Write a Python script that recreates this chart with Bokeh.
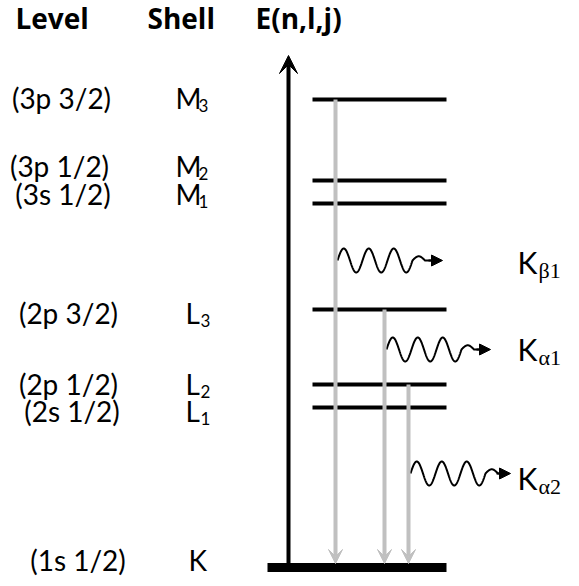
import numpy as np
from bokeh.plotting import figure
from bokeh.models import Range1d, Arrow, VeeHead, NormalHead, ColumnDataSource
from bokeh.core.properties import value
from bokeh.embed import file_html
from bokeh.resources import INLINE

# ---------------- data ----------------
headers = ["Level", "Shell", "E(n,l,j)"]
level_names = ["(3p 3/2)", "(3p 1/2)", "(3s 1/2)", "(2p 3/2)", "(2p 1/2)", "(2s 1/2)", "(1s 1/2)"]
shell_letters = ["M", "M", "M", "L", "L", "L", "K"]
shell_subs = ["3", "2", "1", "3", "2", "1", ""]
energies = [468, 387, 364, 258, 183, 160, 0]          # diagram energy units, K shell = 0

trans_letter = ["K", "K", "K"]
trans_subs = ["β1", "α1", "α2"]
trans_from = [0, 3, 4]                                 # indices of M3, L3, L2
trans_to = 6                                           # K shell

# ---------------- layout ----------------
W, H = 571, 580
TOP = 567                      # reference pixel row of energy 0
def E(py):                     # reference pixel row -> energy units
    return TOP - py

def lift(fs):                  # baseline correction for the svg text placement
    return 0.43 * fs

p = figure(width=W, height=H, output_backend="svg", toolbar_location=None,
           x_range=Range1d(0, W), y_range=Range1d(E(H), E(0)),
           min_border=0, outline_line_color=None)
p.axis.visible = False
p.grid.visible = False
p.background_fill_color = "white"

FONT = value("Lato")

# headers
p.text(x=[15, 147, 255], y=[E(30) + lift(28)] * 3, text=headers, text_font=value("Open Sans"),
       text_font_style="bold", text_font_size=value("28px"), text_align="left",
       text_baseline="alphabetic", text_color="black")

# level / shell labels
label_cx = [61, 59, 62.5, 68, 68, 71.5, 77.5]
label_dy = [1, -12, -7, 6, 2, 6, -5]        # cap-centre offset from the level line (px)
base = [energies[i] - label_dy[i] - 10 for i in range(len(energies))]
p.text(x=label_cx, y=[b + lift(28) for b in base], text=level_names, text_font=FONT,
       text_font_size=value("28px"), text_align="center", text_baseline="alphabetic",
       text_color="black")
shell_x = [175, 175, 175, 185, 185, 185, 188]
letter_w = {"M": 23, "L": 15, "K": 22}
p.text(x=shell_x, y=[b + lift(28) for b in base], text=shell_letters, text_font=FONT,
       text_font_size=value("28px"), text_align="left", text_baseline="alphabetic",
       text_color="black")
p.text(x=[shell_x[i] + letter_w[shell_letters[i]] for i in range(7)],
       y=[b - 2 + lift(17) for b in base], text=shell_subs, text_font=FONT,
       text_font_size=value("17px"), text_align="left", text_baseline="alphabetic",
       text_color="black")

# energy axis arrow
axis_src = ColumnDataSource(dict(x0=[288], y0=[energies[trans_to]], x1=[288], y1=[E(55)]))
p.add_layout(Arrow(end=VeeHead(size=18, fill_color="black", line_color="black"),
                   x_start="x0", y_start="y0", x_end="x1", y_end="y1",
                   source=axis_src, line_color="black", line_width=4))

# level lines
p.segment(x0=[312] * 6, x1=[446] * 6, y0=energies[:6], y1=energies[:6],
          line_color="black", line_width=4)
p.segment(x0=[267], x1=[446], y0=[energies[6]], y1=[energies[6]],
          line_color="black", line_width=9)

# transitions (grey arrows)
GREY = "#c0c0c0"
tx = [335, 384, 408]
tr_src = ColumnDataSource(dict(x0=tx, y0=[energies[i] for i in trans_from],
                               x1=tx, y1=[energies[trans_to] + 4] * 3))
p.add_layout(Arrow(end=VeeHead(size=14, fill_color=GREY, line_color=GREY),
                   x_start="x0", y_start="y0", x_end="x1", y_end="y1",
                   source=tr_src, line_color=GREY, line_width=4))

# photon wavy arrows
wave_y = [E(260), E(349), E(473)]
wave_x0 = [337, 386, 410]
tips = [442, 490, 510]
PER, AMP = 25.0, 12.0
xs, ys = [], []
for x0, yc, tip in zip(wave_x0, wave_y, tips):
    t = np.linspace(0, 3.5, 300)
    amp = np.where(t <= 3.0, AMP, AMP * 0.35)
    xx = x0 + t * PER
    yy = yc + amp * np.sin(2 * np.pi * t)
    xx = np.append(xx, tip - 8)
    yy = np.append(yy, yc)
    xs.append(list(xx))
    ys.append(list(yy))
p.multi_line(xs=xs, ys=ys, line_color="black", line_width=2)
hd_src = ColumnDataSource(dict(x0=[t - 14 for t in tips], y0=wave_y, x1=tips, y1=wave_y))
p.add_layout(Arrow(end=NormalHead(size=11, fill_color="black", line_color="black", line_width=1),
                   x_start="x0", y_start="y0", x_end="x1", y_end="y1",
                   source=hd_src, line_color="black", line_width=2))

# transition labels
lab_base = [E(274), E(361), E(490)]
p.text(x=[517] * 3, y=[b + lift(30) for b in lab_base], text=trans_letter, text_font=FONT,
       text_font_size=value("30px"), text_align="left", text_baseline="alphabetic",
       text_color="black")
p.text(x=[538] * 3, y=[b - 5 + lift(22) for b in lab_base], text=trans_subs,
       text_font=value("Liberation Serif"), text_font_size=value("22px"),
       text_align="left", text_baseline="alphabetic", text_color="black")

open("out.html", "w").write(file_html(p, INLINE))
